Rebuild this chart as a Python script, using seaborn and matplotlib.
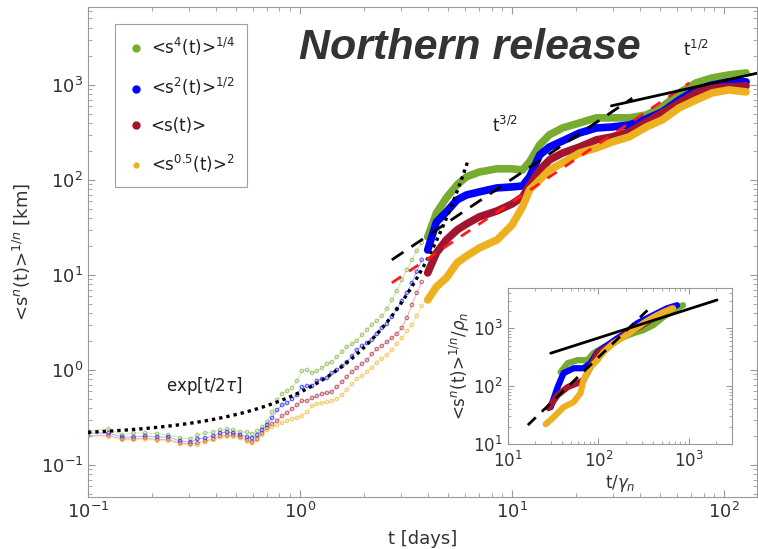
import numpy as np
import matplotlib
matplotlib.use("Agg")
import matplotlib.pyplot as plt
from matplotlib.lines import Line2D
import seaborn as sns

# series colours (matlab-ish)
C_GREEN = "#77AC30"
C_BLUE = "#0000FF"
C_RED = "#A2142F"
C_ORANGE = "#EDB120"

# early times, drawn as small hollow markers
t_early = [0.100, 0.125, 0.145, 0.164, 0.186, 0.212, 0.239, 0.272, 0.304, 0.328,
           0.357, 0.390, 0.420, 0.453, 0.484, 0.522, 0.563, 0.594, 0.628, 0.662,
           0.700, 0.738, 0.779, 0.823, 0.869, 0.917, 0.968, 1.02, 1.08, 1.14,
           1.20, 1.27, 1.34, 1.41, 1.49, 1.58, 1.66, 1.76, 1.85, 1.96,
           2.07, 2.18, 2.30, 2.43, 2.57, 2.71, 2.86, 3.02, 3.19, 3.37, 3.55, 3.75]
s4_early = [0.228, 0.239, 0.207, 0.217, 0.217, 0.212, 0.207, 0.192, 0.188, 0.207,
            0.217, 0.222, 0.234, 0.239, 0.234, 0.222, 0.222, 0.212, 0.228, 0.251,
            0.284, 0.361, 0.483, 0.559, 0.601, 0.646, 0.766, 0.976, 1.00, 0.930,
            0.976, 1.05, 1.16, 1.21, 1.37, 1.55, 1.75, 1.88, 2.02, 2.34,
            2.64, 2.98, 3.28, 3.70, 4.39, 5.46, 6.79, 8.86, 11.3, 14.4, 17.9, 21.7]
s2_early = [0.217, 0.217, 0.197, 0.197, 0.202, 0.197, 0.197, 0.179, 0.174, 0.188,
            0.192, 0.202, 0.217, 0.222, 0.217, 0.207, 0.197, 0.192, 0.207, 0.234,
            0.264, 0.313, 0.379, 0.428, 0.449, 0.495, 0.546, 0.662, 0.678, 0.678,
            0.766, 0.804, 0.824, 0.930, 1.00, 1.10, 1.21, 1.40, 1.62, 1.79,
            1.92, 2.07, 2.39, 2.77, 3.05, 3.61, 4.39, 5.32, 6.47, 8.24, 10.8, 14.4]
s1_early = [0.205, 0.205, 0.188, 0.188, 0.192, 0.185, 0.185, 0.170, 0.166, 0.170,
            0.179, 0.188, 0.202, 0.205, 0.205, 0.197, 0.183, 0.174, 0.188, 0.215,
            0.245, 0.270, 0.291, 0.328, 0.353, 0.389, 0.428, 0.472, 0.472, 0.507,
            0.532, 0.559, 0.573, 0.587, 0.662, 0.748, 0.844, 0.953, 1.05, 1.16,
            1.27, 1.47, 1.66, 1.79, 1.97, 2.17, 2.39, 2.77, 3.53, 4.83, 6.47, 8.44]
s05_early = [0.198, 0.197, 0.183, 0.183, 0.186, 0.180, 0.180, 0.166, 0.162, 0.162,
             0.173, 0.183, 0.196, 0.198, 0.198, 0.191, 0.176, 0.169, 0.183, 0.207,
             0.234, 0.251, 0.264, 0.277, 0.291, 0.305, 0.313, 0.328, 0.361, 0.418,
             0.439, 0.449, 0.460, 0.472, 0.495, 0.546, 0.616, 0.712, 0.804, 0.865,
             0.953, 1.05, 1.19, 1.31, 1.44, 1.62, 1.88, 2.17, 2.57, 2.98, 3.70, 4.72]

# later times, drawn as thick lines
t_late = [4.0, 4.4, 4.9, 5.5, 6.1, 7.0, 8.5, 10.0, 11.2, 12.1, 13.5, 15.0,
          17.3, 20.8, 25.0, 29.7, 35.7, 43.0, 51.1, 61.4, 73.8, 87.9, 105.6, 127.0]
s4_late = [25.1, 44.9, 64.7, 88.6, 108, 121, 131, 131, 127, 155, 234, 298,
           352, 398, 450, 450, 450, 483, 587, 824, 1050, 1185, 1274, 1337]
s2_late = [18.3, 36.1, 46.0, 61.6, 69.5, 74.8, 82.4, 84.4, 86.4, 108, 183, 222,
           257, 312, 352, 361, 379, 439, 520, 695, 886, 1000, 1076, 1076]
s1_late = [10.5, 17.1, 23.4, 29.7, 34.4, 40.8, 47.2, 55.9, 66.2, 88.6, 127, 162,
           192, 222, 264, 284, 320, 408, 507, 647, 824, 930, 953, 976]
s05_late = [5.45, 7.5, 9.3, 13.4, 15.8, 19.2, 23.4, 33.6, 52.0, 78.5, 100, 127,
            151, 192, 217, 251, 284, 361, 428, 573, 695, 824, 886, 844]

labels = [r"<s$^4$(t)>$^{1/4}$", r"<s$^2$(t)>$^{1/2}$", r"<s(t)>", r"<s$^{0.5}$(t)>$^2$"]

# fitted curves: exp growth and power laws
exp_amp, exp_rate, exp_tmax = 0.198, 1.08, 6.2
t32_amp, t32_range = 3.23, (2.71, 36.9)
red_amp, red_range = 1.85, (2.71, 68.5)
t12_amp, t12_range = 111.0, (29.4, 150.0)

# inset: rescaled curves
in_x4 = [38.2, 45.6, 58.8, 75.7, 88.1, 113.5, 146, 188, 243, 312, 402, 518, 667, 859]
in_y4 = [174, 249, 281, 281, 371, 470, 574, 700, 820, 925, 1127, 1549, 2042, 2494]
in_x2 = [29.7, 35.4, 41.2, 53.1, 68.4, 81.7, 97.5, 125.6, 162, 208, 268, 345, 445, 573, 738]
in_y2 = [43.5, 96.1, 168, 204, 204, 249, 386, 509, 673, 853, 1219, 1486, 1815, 2213, 2494]
in_x1 = [28.2, 35.4, 45.6, 58.8, 68.4, 81.7, 97.5, 125.6, 162, 208, 268, 345, 445, 573, 618]
in_y1 = [41.8, 70.0, 96.1, 113, 127, 213, 371, 470, 621, 820, 1000, 1268, 1675, 2042, 2213]
in_x05 = [26.2, 32.0, 41.2, 53.1, 63.4, 68.4, 81.7, 97.5, 113.5, 146, 188, 243, 312, 402, 518, 667]
in_y05 = [22.1, 29.2, 43.5, 53.0, 75.7, 127, 213, 281, 386, 551, 700, 924, 1219, 1549, 1888, 2213]
in_t12_amp, in_t12_range = 68.0, (29.7, 2040.0)
in_t32_amp, in_t32_range = 0.315, (16.6, 347.0)

sns.set_style("ticks")
plt.rcParams["xtick.direction"] = "in"
plt.rcParams["ytick.direction"] = "in"
plt.rcParams["axes.edgecolor"] = "#999999"
plt.rcParams["xtick.color"] = "#999999"
plt.rcParams["ytick.color"] = "#999999"
plt.rcParams["xtick.labelcolor"] = "#333333"
plt.rcParams["ytick.labelcolor"] = "#333333"
plt.rcParams["axes.labelcolor"] = "#333333"

fig = plt.figure(figsize=(7.58, 5.49), dpi=100)
ax = fig.add_axes([0.1161, 0.0947, 0.8826, 0.8925])
ax.set_xscale("log")
ax.set_yscale("log")

series = [
    (s4_early, s4_late, C_GREEN),
    (s2_early, s2_late, C_BLUE),
    (s1_early, s1_late, C_RED),
    (s05_early, s05_late, C_ORANGE),
]
for early, late, col in series:
    # faint trace + hollow markers for the early part
    sns.lineplot(x=t_early, y=early, ax=ax, color=col, lw=0.8, alpha=0.3, zorder=2)
    sns.scatterplot(x=t_early, y=early, ax=ax, marker="o", s=6,
                    facecolor="none", edgecolor=col, linewidth=0.9, alpha=0.6, zorder=2)
    sns.lineplot(x=t_late, y=late, ax=ax, color=col, lw=5.5,
                 solid_capstyle="round", solid_joinstyle="round", zorder=3)

# exp fit
t_exp = np.geomspace(0.1, exp_tmax, 200)
sns.lineplot(x=t_exp, y=exp_amp * np.exp(exp_rate * t_exp), ax=ax, color="black",
             lw=2.4, linestyle=(0, (1, 1.2)), zorder=5)
# power laws
t_a = np.geomspace(*t32_range, 20)
sns.lineplot(x=t_a, y=t32_amp * t_a ** 1.5, ax=ax, color="black", lw=2.0,
             linestyle=(0, (5, 3.5)), zorder=6)
t_b = np.geomspace(*red_range, 20)
sns.lineplot(x=t_b, y=red_amp * t_b ** 1.5, ax=ax, color="#FF1A1A", lw=2.0,
             linestyle=(0, (4, 3.5)), zorder=6)
t_c = np.geomspace(*t12_range, 20)
sns.lineplot(x=t_c, y=t12_amp * t_c ** 0.5, ax=ax, color="black", lw=2.0, zorder=6)

ax.set_xlim(0.1, 143)
ax.set_ylim(0.046, 6600)
ax.tick_params(which="both", top=True, right=True, labelsize=13)
ax.tick_params(which="major", length=5)
ax.tick_params(which="minor", length=3)
ax.set_xlabel("t [days]", fontsize=13, labelpad=6)
ax.set_ylabel(r"<s$^n$(t)>$^{1/n}$ [km]", fontsize=13, labelpad=6)

fig.text(204 / 758, 1 - 386 / 549, r"exp[t/2$\tau$]", fontsize=12, color="#222222",
         ha="center", va="center")
fig.text(505 / 758, 1 - 126 / 549, r"t$^{3/2}$", fontsize=12, color="#222222",
         ha="center", va="center")
fig.text(696 / 758, 1 - 50 / 549, r"t$^{1/2}$", fontsize=12, color="#222222",
         ha="center", va="center")
fig.text(470 / 758, 1 - 48 / 549, "Northern release", fontsize=31,
         family="Liberation Sans", weight="bold", style="italic", color="#333333",
         ha="center", va="center")

handles = [Line2D([], [], marker="o", linestyle="none", color=c, markersize=ms)
           for c, ms in zip([C_GREEN, C_BLUE, C_RED, C_ORANGE], [5, 5, 5, 3.5])]
leg = ax.legend(handles, labels, loc="upper left", bbox_to_anchor=(0.04, 0.965),
                fontsize=12, labelspacing=1.1, handletextpad=0.35, handlelength=1.1,
                frameon=True, fancybox=False, borderpad=0.7, borderaxespad=0)
leg.get_frame().set_edgecolor("#888888")
leg.get_frame().set_linewidth(0.8)
for txt in leg.get_texts():
    txt.set_color("#222222")

# inset
axi = fig.add_axes([0.670, 0.191, 0.2955, 0.284])
axi.set_xscale("log")
axi.set_yscale("log")
for xs, ys, col in [(in_x4, in_y4, C_GREEN), (in_x2, in_y2, C_BLUE),
                    (in_x1, in_y1, C_RED), (in_x05, in_y05, C_ORANGE)]:
    sns.lineplot(x=xs, y=ys, ax=axi, color=col, lw=4.5,
                 solid_capstyle="round", solid_joinstyle="round")
xi = np.geomspace(*in_t12_range, 20)
sns.lineplot(x=xi, y=in_t12_amp * xi ** 0.5, ax=axi, color="black", lw=2.0)
xd = np.geomspace(*in_t32_range, 20)
sns.lineplot(x=xd, y=in_t32_amp * xd ** 1.5, ax=axi, color="black", lw=2.0,
             linestyle=(0, (4, 3)))
axi.set_xlim(10, 2970)
axi.set_ylim(10, 4900)
axi.tick_params(which="both", top=True, right=True, labelsize=12)
axi.tick_params(which="major", length=4)
axi.tick_params(which="minor", length=2)
axi.tick_params(axis="x", pad=5)
axi.set_xlabel(r"t/$\gamma_n$", fontsize=12, labelpad=1)
axi.set_ylabel(r"<s$^n$(t)>$^{1/n}$/$\rho_n$", fontsize=12, labelpad=1)

fig.savefig("out.png", dpi=100)
